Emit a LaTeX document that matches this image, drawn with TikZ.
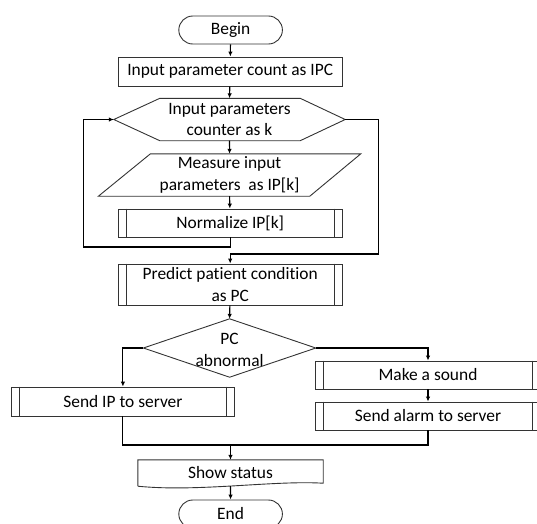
\documentclass[tikz,border=0pt]{standalone}
\usepackage{fontspec}
\setmainfont[Ligatures=NoCommon]{Carlito}
\usetikzlibrary{arrows.meta,calc}
\newcommand\myfs{\fontsize{17.4}{21.2}\selectfont}
\tikzset{
  shp/.style={draw=black!80, line width=0.9pt},
  base/.style={rectangle, inner sep=0pt, align=center, font=\myfs, text=black},
  box/.style={base, shp, minimum width=224pt, minimum height=29pt},
  ghost/.style={base, draw=none},
  term/.style={base, shp, rounded corners=14pt, minimum width=103.6pt, minimum height=28pt},
  conn/.style={draw=black, line width=1.1pt},
  arr/.style={conn, -{Latex[length=5pt,width=4.5pt]}},
}
\begin{document}
\begin{tikzpicture}[x=1pt,y=-1pt]
\useasboundingbox (0,0) rectangle (537,523);
\clip (0,0) rectangle (537,523);

% nodes
\node[term] (begin) at (230.6,30) {Begin};
\node[box] (ipc) at (230.2,71.5) {Input parameter count as IPC};
\node[ghost, minimum width=231pt, minimum height=42pt] (hex) at (229.5,119.5) {Input parameters\\counter as k};
\draw[shp] (hex.west) -- ($(hex.north west)+(46,0)$) -- ($(hex.north east)+(-45,0)$) -- (hex.east)
  -- ($(hex.south east)+(-45,0)$) -- ($(hex.south west)+(46,0)$) -- cycle;
\node[ghost, minimum width=262pt, minimum height=42pt] (meas) at (229.6,175) {Measure input\\parameters~~as IP[k]};
\draw[shp] ($(meas.north west)+(52,0)$) -- (meas.north east) -- ($(meas.south east)+(-51,0)$) -- (meas.south west) -- cycle;
\node[box, minimum height=28pt] (norm) at (230.2,223) {Normalize IP[k]};
\draw[shp] ($(norm.north west)+(8.7,0)$) -- ($(norm.south west)+(8.7,0)$);
\draw[shp] ($(norm.north east)+(-8.7,0)$) -- ($(norm.south east)+(-8.7,0)$);
\node[box, minimum height=41pt] (pred) at (230.2,284.5) {Predict patient condition\\as PC};
\draw[shp] ($(pred.north west)+(8.7,0)$) -- ($(pred.south west)+(8.7,0)$);
\draw[shp] ($(pred.north east)+(-8.7,0)$) -- ($(pred.south east)+(-8.7,0)$);
\node[ghost, minimum width=172pt, minimum height=58pt] (dec) at (229.6,348) {};
\node[base] (dectext) at (229.6,350) {PC\\abnormal};
\draw[shp] (dec.north) -- (dec.east) -- (dec.south) -- (dec.west) -- cycle;
\node[box, minimum width=223pt] (sendip) at (122.9,401.5) {Send IP to server};
\draw[shp] ($(sendip.north west)+(8.2,0)$) -- ($(sendip.south west)+(8.2,0)$);
\draw[shp] ($(sendip.north east)+(-8.2,0)$) -- ($(sendip.south east)+(-8.2,0)$);
\node[box, minimum width=225pt, minimum height=28pt] (sound) at (428,375) {Make a sound};
\draw[shp] ($(sound.north west)+(8.3,0)$) -- ($(sound.south west)+(8.3,0)$);
\draw[shp] ($(sound.north east)+(-8.3,0)$) -- ($(sound.south east)+(-8.3,0)$);
\node[box, minimum width=225pt, minimum height=28pt] (alarm) at (428,416) {Send alarm to server};
\draw[shp] ($(alarm.north west)+(8.3,0)$) -- ($(alarm.south west)+(8.3,0)$);
\draw[shp] ($(alarm.north east)+(-8.3,0)$) -- ($(alarm.south east)+(-8.3,0)$);
\node[ghost, minimum width=185pt, minimum height=26pt] (show) at (230.5,473) {Show status};
\draw[shp] (show.south west) -- (show.north west) -- (show.north east) -- ($(show.south east)+(0,-3)$)
  .. controls ($(show.south east)+(-50,-6)$) and ($(show.south west)+(60,6)$) .. (show.south west);
\node[term] (end) at (230.6,514) {End};

% connectors
\coordinate (lb) at (83.6,247);
\coordinate (rb) at (378.6,254);
\coordinate (m) at (230.5,445);
\coordinate (showb) at (230.5,486);
\draw[arr] (begin) -- (ipc);
\draw[arr] (ipc) -- (hex.north);
\draw[arr] (hex.south) -- (meas.north);
\draw[arr] (meas.south) -- (norm);
\draw[arr] (norm.south) |- (lb) |- (hex.west);
\draw[arr] (hex.east) -| (rb) -| (pred.north);
\draw[arr] (pred) -- (dec.north);
\draw[arr] (dec.west) -| (sendip.north);
\draw[arr] (dec.east) -| (sound.north);
\draw[arr] (sound) -- (alarm);
\draw[conn] (sendip.south) |- (m);
\draw[conn] (alarm.south) |- (m);
\draw[arr] (m) -- (show.north);
\draw[arr] (showb) -- (end);
\end{tikzpicture}
\end{document}
